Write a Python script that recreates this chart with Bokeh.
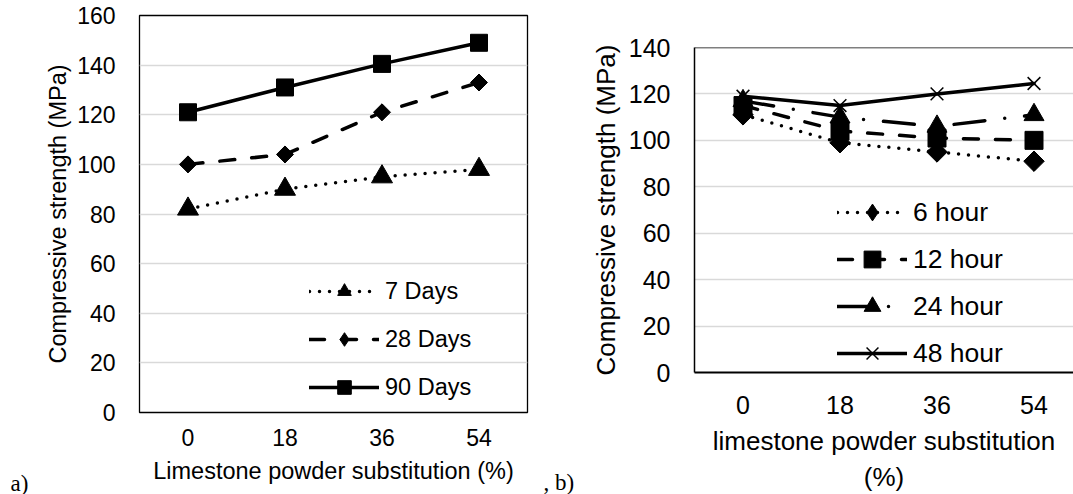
import math
from bokeh.plotting import figure
from bokeh.layouts import row
from bokeh.models import Range1d, FixedTicker, Legend, LegendItem, Span, Title
from bokeh.embed import file_html
from bokeh.resources import INLINE

# limestone powder substitution levels (%)
substitution = ["0", "18", "36", "54"]

# (a) compressive strength (MPa) by curing age
age_labels = ["7 Days", "28 Days", "90 Days"]
strength_7d = [82, 90, 95, 98]
strength_28d = [100, 104, 121, 133]
strength_90d = [121, 131, 140.5, 149]

# (b) compressive strength (MPa) by curing time
time_labels = ["6 hour", "12 hour", "24 hour", "48 hour"]
strength_6h = [111, 99, 95, 91]
strength_12h = [115, 104, 101, 100]
strength_24h = [117, 110, 106, 111]
strength_48h = [119, 115, 120, 124.5]

x_pos = list(range(len(substitution)))
tick_names = {i: s for i, s in enumerate(substitution)}

FONT = "Liberation Sans"
SERIF = "Liberation Serif"
GRID = "#d9d9d9"

DOT = "0 10"
DASH = "15 17"
LONG_DASH_DOT = "31 20 0 20"


def base_axes(p, tick_size, title_size, y_step, y_max):
    p.xaxis.ticker = FixedTicker(ticks=x_pos)
    p.xaxis.major_label_overrides = tick_names
    p.yaxis.ticker = FixedTicker(ticks=list(range(0, y_max + 1, y_step)))
    for ax in (p.xaxis[0], p.yaxis[0]):
        ax.major_tick_line_color = None
        ax.minor_tick_line_color = None
        ax.major_tick_out = 0
        ax.major_tick_in = 0
        ax.major_label_text_font = FONT
        ax.major_label_text_font_size = tick_size
        ax.major_label_text_color = "black"
        ax.axis_label_text_font = FONT
        ax.axis_label_text_font_size = title_size
        ax.axis_label_text_font_style = "normal"
        ax.axis_label_text_color = "black"
    p.xgrid.visible = False
    p.ygrid.grid_line_color = GRID
    p.ygrid.grid_line_width = 1.5
    p.ygrid.ticker = FixedTicker(ticks=list(range(y_step, y_max, y_step)))


def add_series(p, specs, label_size, loc, glyph_h, spacing):
    items = []
    for label, vals, dash, marker, msize, angle, mline, key_marker in specs:
        ln = p.line(x_pos, vals, line_color="black", line_width=3.5,
                    line_dash=dash, line_cap="round", line_join="round")
        mk = p.scatter(x_pos, vals, marker=marker, size=msize, angle=angle,
                       fill_color="black", line_color="black", line_width=mline)
        key = mk
        if key_marker is not None:
            # slimmer diamond sitting inside each rotated square; it also
            # serves as the legend key, since keys are drawn unrotated
            key = p.scatter(x_pos, vals, marker=key_marker, size=msize * 1.35,
                            fill_color="black", line_color="black", line_width=mline)
        items.append(LegendItem(label=label, renderers=[ln, key]))
    legend = Legend(items=items, location=loc, padding=0, margin=0,
                    border_line_color=None, background_fill_alpha=0,
                    glyph_width=70, glyph_height=glyph_h, spacing=spacing,
                    label_standoff=6, label_text_font=FONT,
                    label_text_font_size=label_size, label_text_color="black")
    p.add_layout(legend)


def panel_tag(p, text, offset, standoff):
    p.add_layout(Title(text=text, align="left", offset=offset, standoff=standoff,
                       vertical_align="top", text_font=SERIF,
                       text_font_size="23px", text_font_style="normal",
                       text_color="black"), "below")


# ---- panel (a) ----
p1 = figure(width=535, height=494, output_backend="svg", toolbar_location=None,
            x_range=Range1d(-0.5, 3.5), y_range=Range1d(0, 160),
            min_border_left=139, min_border_right=8, min_border_top=15,
            min_border_bottom=82, frame_align=False)
base_axes(p1, "23px", "23.5px", 20, 160)
p1.xaxis.axis_label = "Limestone powder substitution (%)"
p1.yaxis.axis_label = "Compressive strength (MPa)"
p1.xaxis.major_label_standoff = 16
p1.xaxis.axis_label_standoff = 9
p1.yaxis.major_label_standoff = 24
p1.yaxis.axis_label_standoff = 3
p1.xaxis.axis_line_color = None
p1.yaxis.axis_line_color = None
p1.outline_line_color = "black"
p1.outline_line_width = 1.3
p1.outline_line_alpha = 1

add_series(p1, [
    (age_labels[0], strength_7d, DOT, "triangle", 21, 0, 1, None),
    (age_labels[1], strength_28d, DASH, "square", 12, math.pi / 4, 1, "diamond"),
    (age_labels[2], strength_90d, "solid", "square", 17, 0, 1, None),
], "23.5px", (170, 8), 34, 14)

panel_tag(p1, "a)", -129, -32)

# ---- panel (b) ----
p2 = figure(width=538, height=494, output_backend="svg", toolbar_location=None,
            x_range=Range1d(-0.5, -0.5 + 379 / 97), y_range=Range1d(0, 140),
            min_border_left=159, min_border_right=0, min_border_top=47,
            min_border_bottom=120, frame_align=False)
base_axes(p2, "25px", "26px", 20, 140)
p2.xaxis.axis_label = "limestone powder substitution\n(%)"
p2.yaxis.axis_label = "Compressive strength (MPa)"
p2.xaxis.major_label_standoff = 23
p2.xaxis.axis_label_standoff = 9
p2.yaxis.major_label_standoff = 24
p2.yaxis.axis_label_standoff = 5
p2.xaxis.axis_line_color = "black"
p2.xaxis.axis_line_width = 2
p2.yaxis.axis_line_color = "black"
p2.yaxis.axis_line_width = 1.5
p2.outline_line_color = None
p2.add_layout(Span(location=140, dimension="width", line_color="black",
                   line_width=1.5))

add_series(p2, [
    (time_labels[0], strength_6h, DOT, "square", 14.5, math.pi / 4, 1, "diamond"),
    (time_labels[1], strength_12h, DASH, "square", 18, 0, 1, None),
    (time_labels[2], strength_24h, LONG_DASH_DOT, "triangle", 20, 0, 1, None),
    (time_labels[3], strength_48h, "solid", "x", 18, 0, 1.5, None),
], "26.5px", (143, -2), 42, 5)

panel_tag(p2, ", b)", -151, -50)

layout = row(p1, p2, spacing=0)
open("out.html", "w").write(file_html(layout, INLINE))
